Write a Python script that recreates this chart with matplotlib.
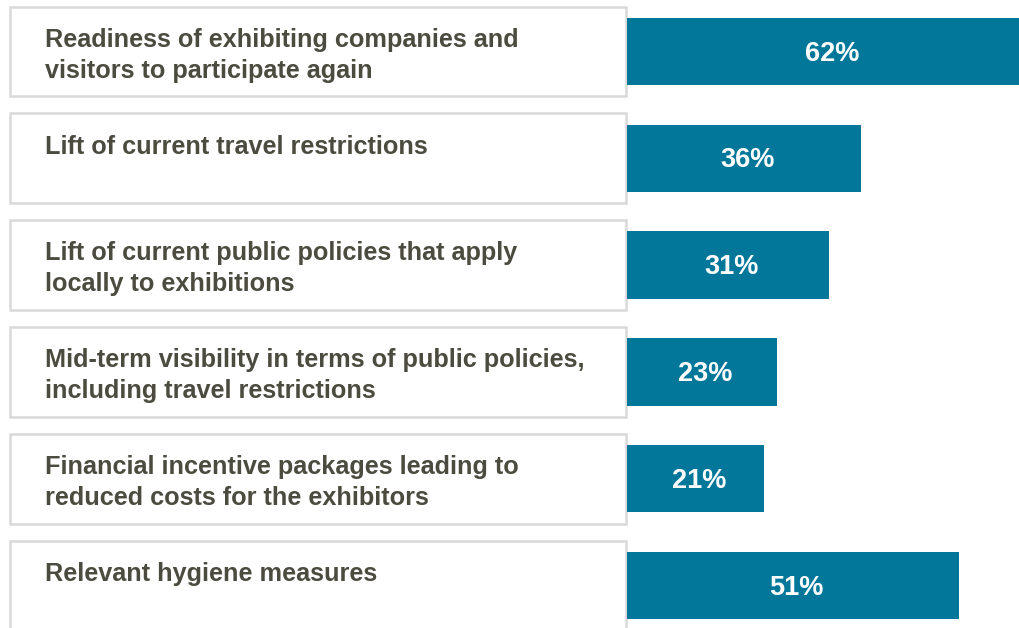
import matplotlib.pyplot as plt
from matplotlib.patches import Rectangle

# ---- data ----
labels = [
    "Readiness of exhibiting companies and\nvisitors to participate again",
    "Lift of current travel restrictions",
    "Lift of current public policies that apply\nlocally to exhibitions",
    "Mid-term visibility in terms of public policies,\nincluding travel restrictions",
    "Financial incentive packages leading to\nreduced costs for the exhibitors",
    "Relevant hygiene measures",
]
values = [62, 36, 31, 23, 21, 51]

bar_color = "#02779a"
text_color = "#4b4b3f"
box_edge = "#d9d9d9"

plt.rcParams["font.family"] = ["Liberation Sans", "DejaVu Sans"]

fig = plt.figure(figsize=(10.2, 6.28), dpi=100)
ax = fig.add_axes([0, 0, 1, 1])

# pixel layout: bars start at x=627px, ~6.5 px per percent
ax.set_xlim(-627 / 6.5, (1020 - 627) / 6.5)
ax.set_ylim((628 - 51.5) / 106.8, -51.5 / 106.8)
ax.axis("off")

y = list(range(len(values)))
bars = ax.barh(y, values, height=0.63, color=bar_color, zorder=2)

box_left = (10 - 627) / 6.5
box_h = 0.84
for i, (lab, v) in enumerate(zip(labels, values)):
    ax.add_patch(Rectangle((box_left, i - box_h / 2), -box_left - 0.1, box_h,
                           facecolor="white", edgecolor=box_edge, lw=1.8, zorder=1))
    txt = lab if "\n" in lab else lab + "\n "
    ax.text((45 - 627) / 6.5, i + 0.035, txt, ha="left", va="center", fontsize=18.2,
            fontweight="bold", color=text_color, linespacing=1.36)
    ax.text(v / 2 + 0.6, i + 0.02, f"{v}%", ha="center", va="center", fontsize=19.5,
            fontweight="bold", color="white", zorder=3)

fig.savefig("out.png", dpi=100)
